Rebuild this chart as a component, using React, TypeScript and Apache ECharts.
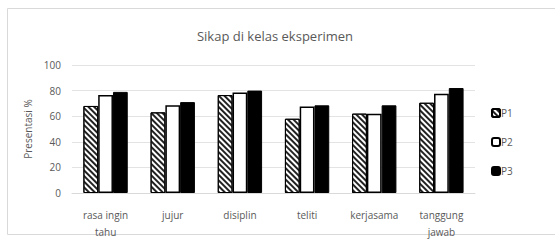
import React, { useEffect, useRef } from "react";
import * as echarts from "echarts";

const categories = ["rasa ingin\ntahu", "jujur", "disiplin", "teliti", "kerjasama", "tanggung\njawab"];
const seriesNames = ["P1", "P2", "P3"];
const p1 = [68, 63, 76.5, 58, 62, 70.5];
const p2 = [76.5, 68.5, 78.5, 67.5, 62, 77.5];
const p3 = [79, 71, 80, 68.5, 68.5, 82];
const yTicks = { min: 0, max: 100, interval: 20 };

export default function App() {
  const ref = useRef<HTMLDivElement>(null);
  useEffect(() => {
    if (!ref.current) return;
    const chart = echarts.init(ref.current, undefined, { renderer: "svg" });
    const txt = "#595959";
    const hatch = {
      symbol: "rect",
      symbolSize: 1,
      color: "#222",
      dashArrayX: [1, 0],
      dashArrayY: [1.2, 2],
      rotation: Math.PI / 4,
    };
    chart.setOption({
      animation: false,
      backgroundColor: "#fff",
      graphic: [
        {
          type: "rect",
          shape: { x: 7.5, y: 8.5, width: 560, height: 226 },
          style: { fill: "none", stroke: "#d9d9d9", lineWidth: 1 },
          silent: true,
        },
      ],
      title: {
        text: "Sikap di kelas eksperimen",
        left: 270,
        textAlign: "center",
        top: 24,
        textStyle: { fontFamily: "Open Sans", fontSize: 13, fontWeight: "normal", color: txt },
      },
      grid: { left: 72, right: 80, top: 65, bottom: 51 },
      legend: {
        orient: "vertical",
        left: 486,
        top: 103,
        itemWidth: 8,
        itemHeight: 8,
        itemGap: 19,
        textStyle: { fontFamily: "Open Sans", fontSize: 10, color: txt, padding: [0, 0, 0, -4] },
        data: seriesNames,
      },
      xAxis: {
        type: "category",
        data: categories,
        axisLine: { lineStyle: { color: "#d9d9d9" } },
        axisTick: { show: false },
        axisLabel: { fontFamily: "Open Sans", fontSize: 10, color: txt, lineHeight: 17, margin: 13 },
      },
      yAxis: {
        type: "value",
        min: yTicks.min,
        max: yTicks.max,
        interval: yTicks.interval,
        name: "Presentasi %",
        nameLocation: "middle",
        nameGap: 30,
        nameTextStyle: { fontFamily: "Open Sans", fontSize: 10, color: txt },
        axisLabel: { fontFamily: "Open Sans", fontSize: 10, color: txt, margin: 11 },
        splitLine: { lineStyle: { color: "#e3e3e3" } },
      },
      series: [
        {
          name: seriesNames[0],
          type: "bar",
          data: p1,
          barGap: "0%",
          barCategoryGap: "34%",
          itemStyle: { color: "#fff", borderColor: "#000", borderWidth: 1, decal: hatch },
        },
        {
          name: seriesNames[1],
          type: "bar",
          data: p2,
          barGap: "0%",
          barCategoryGap: "34%",
          itemStyle: { color: "#fff", borderColor: "#000", borderWidth: 1.5 },
        },
        {
          name: seriesNames[2],
          type: "bar",
          data: p3,
          barGap: "0%",
          barCategoryGap: "34%",
          itemStyle: { color: "#000", borderColor: "#000", borderWidth: 1 },
        },
      ],
    });
    return () => chart.dispose();
  }, []);
  return (
    <div
      ref={ref}
      style={{ position: "absolute", left: 0, top: 0, width: 555, height: 244 }}
    />
  );
}
